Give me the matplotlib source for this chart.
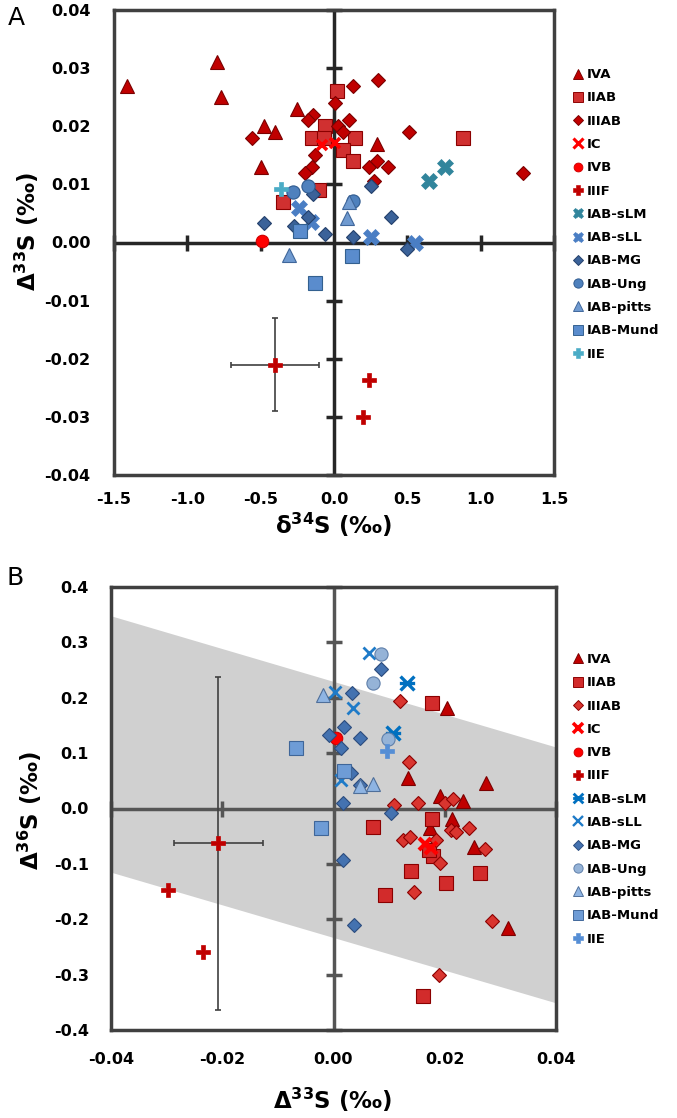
import matplotlib
matplotlib.use("Agg")
import matplotlib.pyplot as plt
from matplotlib.path import Path
from matplotlib.lines import Line2D

# ---- data, panel A: (d34S, D33S) ----
a_iva = [(-1.41, 0.027), (-0.80, 0.031), (-0.77, 0.025), (-0.48, 0.020), (-0.40, 0.019),
         (-0.50, 0.013), (-0.25, 0.023), (0.29, 0.017)]
a_iiab = [(0.02, 0.026), (-0.06, 0.020), (-0.15, 0.018), (-0.07, 0.018), (0.14, 0.018),
          (0.06, 0.016), (0.13, 0.014), (0.88, 0.018), (-0.10, 0.009), (-0.35, 0.007)]
a_iiiab = [(0.13, 0.027), (0.30, 0.028), (0.01, 0.024), (-0.14, 0.022), (-0.18, 0.021),
           (0.10, 0.021), (0.03, 0.020), (0.06, 0.019), (0.51, 0.019), (-0.13, 0.015),
           (-0.15, 0.013), (-0.20, 0.012), (0.24, 0.013), (0.29, 0.014), (0.37, 0.013),
           (1.29, 0.012), (0.27, 0.0105), (-0.56, 0.018)]
a_ic = [(-0.08, 0.0167), (0.01, 0.0171)]
a_ivb = [(-0.49, 0.0002)]
a_iiif = [(-0.40, -0.021), (0.24, -0.0236), (0.20, -0.030)]
a_iiif_xerr = [0.30, 0, 0]
a_iiif_yerr = [0.008, 0, 0]
a_slm = [(0.65, 0.0105), (0.76, 0.013)]
a_sll = [(-0.24, 0.006), (-0.16, 0.0035), (0.25, 0.001), (0.55, 0.0)]
a_mg = [(-0.48, 0.0033), (-0.14, 0.0083), (-0.27, 0.0029), (-0.18, 0.0044), (-0.06, 0.0015),
        (0.13, 0.001), (0.25, 0.0098), (0.39, 0.0044), (0.50, -0.0011)]
a_ung = [(-0.28, 0.0087), (-0.18, 0.0098), (0.13, 0.0072)]
a_pitts = [(0.10, 0.0069), (0.09, 0.0042), (-0.31, -0.0021)]
a_mund = [(-0.23, 0.0019), (0.125, -0.0024), (-0.127, -0.007)]
a_iie = [(-0.36, 0.0092)]

# ---- data, panel B: (D33S, D36S) ----
b_iva = [(0.0204, 0.181), (0.0134, 0.0545), (0.0275, 0.0455), (0.0192, 0.0226), (0.0233, 0.014),
         (0.0213, -0.0196), (0.0173, -0.036), (0.0252, -0.069), (0.0313, -0.216)]
b_iiab = [(0.0177, 0.191), (0.0177, -0.0196), (0.0071, -0.034), (0.0179, -0.086), (0.0140, -0.112),
          (0.0263, -0.116), (0.0203, -0.135), (0.0093, -0.156), (0.0161, -0.339), (0.0172, -0.075)]
b_iiiab = [(0.012, 0.195), (0.0135, 0.0845), (0.0108, 0.006), (0.0152, 0.0094), (0.0201, 0.0105),
           (0.0215, 0.018), (0.0243, -0.036), (0.0212, -0.039), (0.0221, -0.042), (0.0125, -0.056),
           (0.0137, -0.052), (0.0185, -0.057), (0.0273, -0.074), (0.0191, -0.098), (0.0144, -0.150),
           (0.0285, -0.203), (0.0189, -0.301)]
b_ic = [(0.0165, -0.065), (0.0175, -0.072)]
b_ivb = [(0.0004, 0.127)]
b_iiif = [(-0.0207, -0.063), (-0.0298, -0.147), (-0.0234, -0.259)]
b_iiif_xerr = [0.008, 0, 0]
b_iiif_yerr = [0.30, 0, 0]
b_slm = [(0.0132, 0.226), (0.0107, 0.136)]
b_sll = [(0.0064, 0.281), (0.0002, 0.211), (0.0035, 0.181), (0.0013, 0.051)]
b_mg = [(0.0086, 0.252), (0.0034, 0.209), (0.0019, 0.147), (-0.0008, 0.133), (0.0047, 0.128),
        (0.0013, 0.110), (0.0031, 0.065), (0.0047, 0.042), (0.0017, 0.0105), (0.0104, -0.0076),
        (0.0017, -0.093), (0.0036, -0.210)]
b_ung = [(0.0086, 0.279), (0.0071, 0.227), (0.0098, 0.125)]
b_pitts = [(-0.0019, 0.205), (0.0071, 0.044), (0.0047, 0.040)]
b_mund = [(-0.0067, 0.109), (-0.0023, -0.036), (0.0019, 0.068)]
b_iie = [(0.0097, 0.103)]

# gray band in panel B
band_x = [-0.04, 0.04]
band_top = [0.348, 0.111]
band_bot = [-0.115, -0.351]

labels = ["IVA", "IIAB", "IIIAB", "IC", "IVB", "IIIF", "IAB-sLM", "IAB-sLL",
          "IAB-MG", "IAB-Ung", "IAB-pitts", "IAB-Mund", "IIE"]

a_xticks = [-1.5, -1.0, -0.5, 0.0, 0.5, 1.0, 1.5]
a_yticks = [-0.04, -0.03, -0.02, -0.01, 0.0, 0.01, 0.02, 0.03, 0.04]
b_xticks = [-0.04, -0.02, 0.0, 0.02, 0.04]
b_yticks = [-0.4, -0.3, -0.2, -0.1, 0.0, 0.1, 0.2, 0.3, 0.4]

star_x = Path([(-1, -1), (1, 1), (-1, 1), (1, -1), (-1.1, 0), (1.1, 0)],
              [Path.MOVETO, Path.LINETO, Path.MOVETO, Path.LINETO, Path.MOVETO, Path.LINETO])

# marker, face, edge, size, edge width
a_style = [
    ("^", "#C00000", "#7A0000", 10, 0.8),
    ("s", "#D03030", "#8B0000", 10, 0.8),
    ("D", "#C00000", "#7A0000", 7.5, 0.8),
    ("x", "#FF0000", "#FF0000", 7, 2.6),
    ("o", "#FF0000", "#D00000", 9, 0.8),
    ("P", "#C00000", "#C00000", 10, 0.5),
    ("X", "#31859C", "#31859C", 11, 0.5),
    ("X", "#4A7EC4", "#4A7EC4", 11, 0.5),
    ("D", "#3B6299", "#24406B", 7.5, 0.8),
    ("o", "#4F81BD", "#2F5A8F", 9.5, 0.8),
    ("^", "#6F9AD0", "#3F669A", 10, 0.8),
    ("s", "#5A8CCD", "#33608F", 10, 0.8),
    ("P", "#4BACC6", "#4BACC6", 10, 0.5),
]
b_style = [
    ("^", "#C00000", "#7A0000", 10, 0.8),
    ("s", "#D22B2B", "#8B0000", 10, 0.8),
    ("D", "#D9352F", "#8B0000", 7.5, 0.8),
    ("x", "#FF0000", "#FF0000", 8, 3.0),
    ("o", "#FF0000", "#D00000", 9, 0.8),
    ("P", "#C00000", "#C00000", 10, 0.5),
    (star_x, "#0070C0", "#0070C0", 11, 2.4),
    ("x", "#1F7BC8", "#1F7BC8", 9, 2.0),
    ("D", "#4472B0", "#2B4C7E", 7.5, 0.8),
    ("o", "#95B3D7", "#5F7FAA", 9.5, 0.8),
    ("^", "#8EB4E3", "#4F6F9A", 10, 0.8),
    ("s", "#6E9CD6", "#3F6699", 10, 0.8),
    ("P", "#558ED5", "#558ED5", 10, 0.5),
]

fig = plt.figure(figsize=(6.77, 11.18), dpi=100)
axA = fig.add_axes([114 / 677, 1 - 475 / 1118, 440 / 677, 465 / 1118])
axB = fig.add_axes([111 / 677, 1 - 1030 / 1118, 445 / 677, 443 / 1118])


def draw_panel(ax, groups, styles, err_pts, xerr, yerr, xt, yt, tick_len, axis_col,
               xpad, ypad, leg_anchor):
    ax.set_xlim(xt[0], xt[-1])
    ax.set_ylim(yt[0], yt[-1])
    ax.set_xticks(xt)
    ax.set_yticks(yt)
    ax.set_xticklabels([f"{v:.1f}" if abs(xt[-1]) > 1 else f"{v:.2f}" for v in xt])
    ax.set_yticklabels([f"{v:.2f}" if abs(yt[-1]) < 0.1 else f"{v:.1f}" for v in yt])
    ax.tick_params(length=0, labelsize=11.5)
    ax.tick_params(axis="x", pad=xpad)
    ax.tick_params(axis="y", pad=ypad)
    for lab in ax.get_xticklabels() + ax.get_yticklabels():
        lab.set_fontweight("bold")
    for s in ax.spines.values():
        s.set_linewidth(2.5)
        s.set_color("#404040")
        s.set_zorder(6)

    # inner axes through the origin, with their tick marks
    ax.axhline(0, color=axis_col, lw=2.5, zorder=2)
    ax.axvline(0, color=axis_col, lw=2.5, zorder=2)
    tx = [v for v in xt if v != 0]
    ty = [v for v in yt if v != 0]
    ax.plot(tx, [0] * len(tx), ls="none", marker="|", ms=tick_len, mew=2.5, color=axis_col,
            zorder=2, clip_on=False)
    ax.plot([0] * len(ty), ty, ls="none", marker="_", ms=tick_len, mew=2.5, color=axis_col,
            zorder=2, clip_on=False)

    # error bars on the first IIIF point
    ex, ey = err_pts[0]
    ax.errorbar([ex], [ey], xerr=[xerr[0]], yerr=[yerr[0]], fmt="none", ecolor="#404040",
                elinewidth=1.2, capsize=2, capthick=1.2, zorder=3)

    handles = []
    for pts, st, lab in zip(groups, styles, labels):
        m, fc, ec, ms, mew = st
        xs = [p[0] for p in pts]
        ys = [p[1] for p in pts]
        ax.plot(xs, ys, ls="none", marker=m, ms=ms, mfc=fc, mec=ec, mew=mew, zorder=4)
        lms = max(ms * 0.7, 7) if m == "x" else ms * 0.7
        handles.append(Line2D([], [], ls="none", marker=m, ms=lms, mfc=fc, mec=ec,
                              mew=mew * 0.85))

    ax.legend(handles, labels, loc="upper left", bbox_to_anchor=leg_anchor, frameon=False,
              borderaxespad=0, borderpad=0, handlelength=0.7, handletextpad=0.25,
              labelspacing=0.78, prop={"size": 9.5, "weight": "bold"})


draw_panel(axA, [a_iva, a_iiab, a_iiiab, a_ic, a_ivb, a_iiif, a_slm, a_sll, a_mg, a_ung,
                 a_pitts, a_mund, a_iie], a_style, a_iiif, a_iiif_xerr, a_iiif_yerr,
           a_xticks, a_yticks, 11, "#262626", 12, 17, (1.045, 0.875))

axB.fill_between(band_x, band_bot, band_top, color="#D0D0D0", lw=0, zorder=1)
draw_panel(axB, [b_iva, b_iiab, b_iiiab, b_ic, b_ivb, b_iiif, b_slm, b_sll, b_mg, b_ung,
                 b_pitts, b_mund, b_iie], b_style, b_iiif, b_iiif_xerr, b_iiif_yerr,
           b_xticks, b_yticks, 11, "#555555", 16, 16, (1.04, 0.851))

# axis titles and panel letters
fig.text(27 / 677, 1 - 231 / 1118, "Δ$^{\\mathbf{33}}$S (‰)", rotation=90, ha="center",
         va="center", fontsize=16.5, fontweight="bold")
fig.text(334 / 677, 1 - 525 / 1118, "δ$^{\\mathbf{34}}$S (‰)", ha="center", va="center",
         fontsize=16.5, fontweight="bold")
fig.text(30 / 677, 1 - 810 / 1118, "Δ$^{\\mathbf{36}}$S (‰)", rotation=90, ha="center",
         va="center", fontsize=16.5, fontweight="bold")
fig.text(333 / 677, 1 - 1100 / 1118, "Δ$^{\\mathbf{33}}$S (‰)", ha="center", va="center",
         fontsize=16.5, fontweight="bold")
fig.text(16 / 677, 1 - 18 / 1118, "A", ha="center", va="center", fontsize=18)
fig.text(15 / 677, 1 - 578 / 1118, "B", ha="center", va="center", fontsize=18)

fig.savefig("out.png", dpi=100)
